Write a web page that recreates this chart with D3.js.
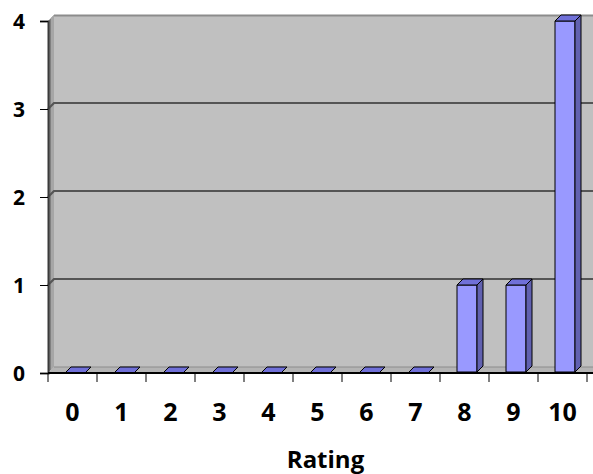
<!DOCTYPE html>
<html><head><meta charset="utf-8">
<script src="https://cdn.jsdelivr.net/npm/d3@7"></script>
<style>body{margin:0;background:#fff}svg{display:block}text{font-family:"Open Sans",sans-serif;font-weight:bold;fill:#000}</style>
</head><body>
<svg id="c" width="593" height="474"></svg>
<script>
const categories = ["0","1","2","3","4","5","6","7","8","9","10"];
const counts = [0,0,0,0,0,0,0,0,1,1,4];
const yTicks = [0,1,2,3,4];
const xTitle = "Rating";

const svg = d3.select("#c");
const pLeft = 48, pRight = 587, pTop = 21, pBottom = 373;
const dx = 6, dy = -6;
const x = d3.scaleBand().domain(categories).range([pLeft, pRight]).padding(0);
const y = d3.scaleLinear().domain([0,4]).range([pBottom, pTop]);

// side wall
svg.append("polygon")
  .attr("points", [[pLeft, y(4)],[pLeft+dx, y(4)+dy],[pLeft+dx, pBottom+dy],[pLeft, pBottom]].join(" "))
  .attr("fill", "#808080");
svg.append("polygon")
  .attr("points", [[pLeft+3, y(4)-3],[pLeft+dx, y(4)+dy],[pLeft+dx, pBottom+dy],[pLeft+3, pBottom-3]].join(" "))
  .attr("fill", "#a6a6a6");
// back wall
svg.append("rect").attr("x", pLeft+dx).attr("y", y(4)+dy).attr("width", 593-pLeft-dx).attr("height", pBottom - y(4))
  .attr("fill", "#c0c0c0");
svg.append("line").attr("x1", pLeft+dx).attr("x2", 593).attr("y1", y(4)+dy+0.5).attr("y2", y(4)+dy+0.5)
  .attr("stroke", "#8c8c8c").attr("stroke-width", 2);
// floor
svg.append("polygon")
  .attr("points", [[pLeft, pBottom],[pLeft+dx, pBottom+dy],[593, pBottom+dy],[593, pBottom]].join(" "))
  .attr("fill", "#b4b4b4");
// gridlines
yTicks.filter(t => t > 0 && t < 4).forEach(t => {
  svg.append("polyline")
    .attr("points", [[pLeft, y(t)],[pLeft+dx, y(t)+dy],[593, y(t)+dy]].join(" "))
    .attr("fill", "none").attr("stroke", "#555").attr("stroke-width", 2.2);
});
svg.append("line").attr("x1", pLeft+dx).attr("x2", 593).attr("y1", pBottom+dy).attr("y2", pBottom+dy)
  .attr("stroke", "#8c8c8c").attr("stroke-width", 1);

// bars
const bw = 20, off = 17, bd = 6;
categories.forEach((c, i) => {
  const v = counts[i];
  const x0 = x(c) + off, x1 = x0 + bw, yt = y(v), yb = pBottom - 1;
  const g = svg.append("g").attr("stroke", "#000").attr("stroke-width", 1).attr("stroke-linejoin", "round");
  if (v > 0) {
    g.append("polygon").attr("points", [[x0,yt],[x1,yt],[x1,yb],[x0,yb]].join(" ")).attr("fill", "#9999ff");
    g.append("polygon").attr("points", [[x1,yt],[x1+bd,yt-bd],[x1+bd,yb-bd],[x1,yb]].join(" ")).attr("fill", "#6161b0");
  }
  g.append("polygon").attr("points", [[x0,yt],[x0+bd,yt-bd],[x1+bd,yt-bd],[x1,yt]].join(" ")).attr("fill", "#7070d8");
});

// axes
const yAxis = svg.append("g").attr("transform", `translate(${pLeft},0)`)
  .call(d3.axisLeft(y).tickValues(yTicks).tickSize(8).tickFormat(d3.format("d")));
yAxis.select(".domain").attr("stroke", "#3a3a3a").attr("stroke-width", 2);
yAxis.selectAll(".tick line").attr("stroke", "#000");
yAxis.selectAll(".tick text").attr("x", -23).attr("dy", "0.36em").style("font-size", "21px").attr("fill", "#000");

const xAxis = svg.append("g").attr("transform", `translate(0,${pBottom})`)
  .call(d3.axisBottom(x).tickSize(0).tickPadding(0));
xAxis.select(".domain").remove();
svg.append("line").attr("x1", pLeft).attr("x2", 593).attr("y1", pBottom).attr("y2", pBottom).attr("stroke", "#000").attr("stroke-width", 2);
xAxis.selectAll(".tick text").attr("y", 48).attr("dy", 0).style("font-size", "25px").attr("fill", "#000");
// category boundary ticks
svg.append("g").selectAll("line").data(d3.range(categories.length + 1)).join("line")
  .attr("x1", i => pLeft + i * x.bandwidth()).attr("x2", i => pLeft + i * x.bandwidth())
  .attr("y1", pBottom).attr("y2", pBottom + 9).attr("stroke", "#000").attr("stroke-width", 1);

svg.append("text").attr("x", (pLeft + pRight) / 2 + 8).attr("y", 468).attr("text-anchor", "middle")
  .style("font-size", "24px").text(xTitle);
</script>
</body></html>
